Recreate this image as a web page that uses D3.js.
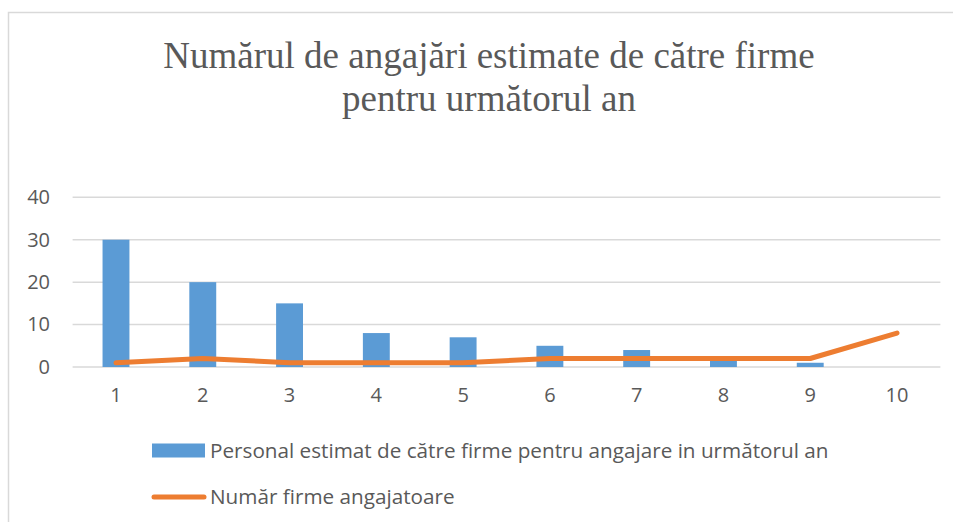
<!DOCTYPE html>
<html>
<head>
<meta charset="utf-8">
<script src="https://cdn.jsdelivr.net/npm/d3@7"></script>
<style>
  body { margin: 0; background: #fff; }
  svg text { fill: #595959; }
</style>
</head>
<body>
<div id="chart"></div>
<script>
// chart data
var categories = ['1', '2', '3', '4', '5', '6', '7', '8', '9', '10'];
var personal = [30, 20, 15, 8, 7, 5, 4, 2, 1, 0];
var firme = [1, 2, 1, 1, 1, 2, 2, 2, 2, 8];
var yTicks = [0, 10, 20, 30, 40];
var titleLines = ['Numărul de angajări estimate de către firme', 'pentru următorul an'];
var seriesNames = ['Personal estimat de către firme pentru angajare in următorul an', 'Număr firme angajatoare'];

var W = 953, H = 522;
var svg = d3.select('#chart').append('svg')
  .attr('width', W)
  .attr('height', H);

// chart frame
svg.append('rect')
  .attr('x', 8.5).attr('y', 12.5)
  .attr('width', 960).attr('height', 530)
  .attr('fill', 'none')
  .attr('stroke', '#d9d9d9')
  .attr('stroke-width', 1.5);

// title
svg.append('text')
  .attr('text-anchor', 'middle')
  .style('font-family', '"Liberation Serif", "Times New Roman", serif')
  .style('font-size', '37px')
  .selectAll('tspan')
  .data(titleLines)
  .enter().append('tspan')
    .attr('x', 489)
    .attr('y', function(d, i) { return 68 + i * 43; })
    .text(function(d) { return d; });

// plot area (names avoid window.top)
var pLeft = 72.6, pRight = 940.4, pTop = 197.3, pBottom = 367;

var x = d3.scaleBand()
  .domain(categories)
  .range([pLeft, pRight])
  .paddingInner(0.69)
  .paddingOuter(0.345);

var y = d3.scaleLinear().domain([0, 40]).range([pBottom, pTop]);

// gridlines
svg.append('g').selectAll('line')
  .data(yTicks)
  .enter().append('line')
    .attr('x1', pLeft).attr('x2', pRight)
    .attr('y1', function(d) { return y(d); })
    .attr('y2', function(d) { return y(d); })
    .attr('stroke', '#d9d9d9')
    .attr('stroke-width', 1.5);

// y axis labels
var yAxis = svg.append('g')
  .attr('transform', 'translate(50,0)')
  .call(d3.axisLeft(y).tickValues(yTicks).tickSize(0).tickPadding(0));
yAxis.select('.domain').remove();
yAxis.selectAll('text')
  .style('font-family', '"Open Sans", sans-serif')
  .style('font-size', '20px')
  .attr('fill', '#595959');

// x axis labels
var xAxis = svg.append('g')
  .attr('transform', 'translate(0,' + pBottom + ')')
  .call(d3.axisBottom(x).tickSize(0).tickPadding(21));
xAxis.select('.domain').remove();
xAxis.selectAll('text')
  .style('font-family', '"Open Sans", sans-serif')
  .style('font-size', '20px')
  .attr('fill', '#595959');

// bars
svg.append('g').selectAll('rect')
  .data(personal)
  .enter().append('rect')
    .attr('x', function(d, i) { return x(categories[i]); })
    .attr('y', function(d) { return y(d); })
    .attr('width', x.bandwidth())
    .attr('height', function(d) { return y(0) - y(d); })
    .attr('fill', '#5b9bd5');

// line
var line = d3.line()
  .x(function(d, i) { return x(categories[i]) + x.bandwidth() / 2; })
  .y(function(d) { return y(d); });

svg.append('path')
  .datum(firme)
  .attr('d', line)
  .attr('fill', 'none')
  .attr('stroke', '#ed7d31')
  .attr('stroke-width', 5)
  .attr('stroke-linejoin', 'round')
  .attr('stroke-linecap', 'round');

// legend
var lg = svg.append('g');
lg.append('rect')
  .attr('x', 152).attr('y', 443.5)
  .attr('width', 53).attr('height', 14)
  .attr('fill', '#5b9bd5');
lg.append('line')
  .attr('x1', 154).attr('x2', 204)
  .attr('y1', 497).attr('y2', 497)
  .attr('stroke', '#ed7d31')
  .attr('stroke-width', 5)
  .attr('stroke-linecap', 'round');
lg.selectAll('text')
  .data(seriesNames)
  .enter().append('text')
    .attr('x', 210)
    .attr('y', function(d, i) { return 451 + i * 46; })
    .attr('dy', '0.35em')
    .style('font-family', '"Open Sans", sans-serif')
    .style('font-size', '20.7px')
    .text(function(d) { return d; });
</script>
</body>
</html>
